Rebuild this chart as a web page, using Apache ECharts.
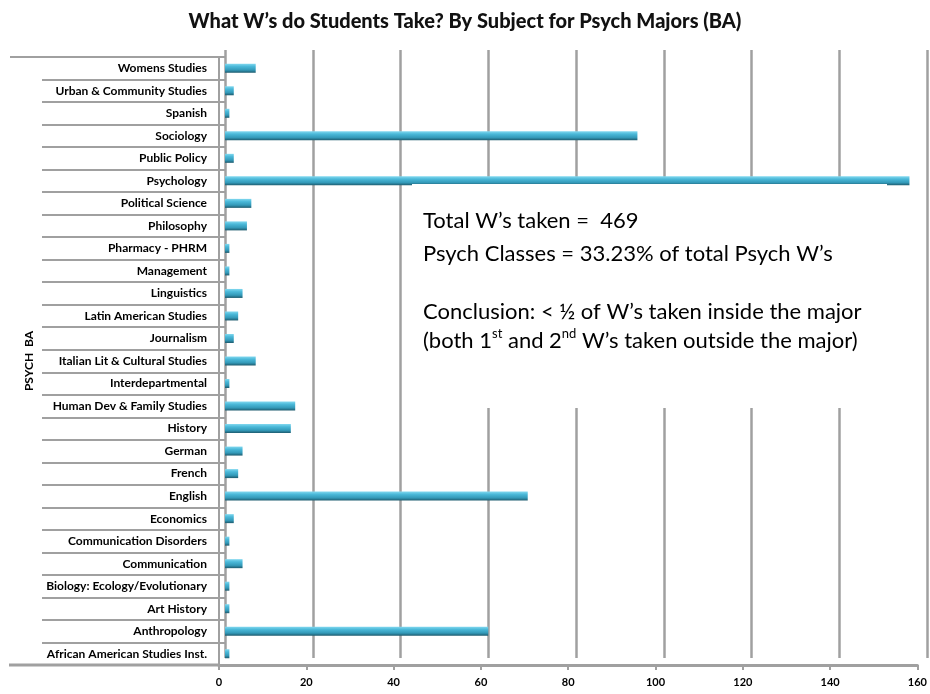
<!DOCTYPE html>
<html>
<head>
<meta charset="utf-8">
<script src="https://cdn.jsdelivr.net/npm/echarts@6/dist/echarts.min.js"></script>
<style>
  html, body { margin: 0; padding: 0; background: #fff; }
  #chart { width: 930px; height: 694px; }
</style>
</head>
<body>
<div id="chart"></div>
<script>
// subjects from top to bottom, as in the picture
var subjects = [
    'Womens Studies', 'Urban & Community Studies', 'Spanish', 'Sociology',
    'Public Policy', 'Psychology', 'Political Science', 'Philosophy',
    'Pharmacy - PHRM', 'Management', 'Linguistics', 'Latin American Studies',
    'Journalism', 'Italian Lit & Cultural Studies', 'Interdepartmental',
    'Human Dev & Family Studies', 'History', 'German', 'French', 'English',
    'Economics', 'Communication Disorders', 'Communication',
    'Biology: Ecology/Evolutionary', 'Art History', 'Anthropology',
    'African American Studies Inst.'
];
var wCounts = [
    7, 2, 1, 94,
    2, 156, 6, 5,
    1, 1, 4, 3,
    2, 7, 1,
    16, 15, 4, 3, 69,
    2, 1, 4,
    1, 1, 60,
    1
];
var xTicks = [0, 20, 40, 60, 80, 100, 120, 140, 160];

var chart = echarts.init(document.getElementById('chart'), null, {renderer: 'canvas'});

var gray = '#a0a0a0';
var lblFont = 'Lato, "Liberation Sans", sans-serif';
var noteFont = '22px Lato, sans-serif';

option = {
    backgroundColor: '#fff',
    animation: false,
    title: {
        text: 'What W\u2019s do Students Take? By Subject for Psych Majors (BA)',
        left: 'center',
        top: 7,
        textStyle: {fontFamily: lblFont, fontWeight: 900, fontSize: 20, color: '#111'}
    },
    grid: [
        // bars + category labels
        {left: 225, right: 3, top: 57, bottom: 29},
        // back wall (gridlines shifted, 3d look)
        {left: 225, right: 3, top: 50, bottom: 36},
        // floor axis
        {left: 219, right: 10, top: 57, bottom: 29}
    ],
    xAxis: [
        {
            gridIndex: 0, type: 'value', min: 0, max: 160, interval: 20,
            axisLine: {show: false}, axisTick: {show: false},
            axisLabel: {show: false}, splitLine: {show: false}
        },
        {
            gridIndex: 1, type: 'value', min: 0, max: 160, interval: 20,
            axisLine: {show: false}, axisTick: {show: false},
            axisLabel: {show: false},
            splitLine: {show: true, lineStyle: {color: gray, width: 2.5}}
        },
        {
            gridIndex: 2, type: 'value', min: 0, max: 160, interval: 20,
            axisLine: {show: true, lineStyle: {color: gray, width: 3}},
            axisTick: {show: true, length: 5, lineStyle: {color: gray, width: 2}},
            axisLabel: {
                margin: 12, color: '#000', fontFamily: lblFont,
                fontWeight: 'bold', fontSize: 11,
                formatter: function (v) { return xTicks.indexOf(v) >= 0 ? String(v) : ''; }
            },
            splitLine: {show: false}
        }
    ],
    yAxis: [
        {
            gridIndex: 0, type: 'category', data: subjects, inverse: true,
            axisLine: {show: false},
            axisTick: {show: true, length: 183, lineStyle: {color: gray, width: 2}},
            axisLabel: {
                margin: 18, color: '#000', fontFamily: lblFont,
                fontWeight: 'bold', fontSize: 12
            },
            name: 'PSYCH  BA',
            nameLocation: 'middle',
            nameRotate: 90,
            nameGap: 190,
            nameTextStyle: {fontFamily: lblFont, fontWeight: 'bold', fontSize: 12, color: '#000'}
        },
        {
            gridIndex: 1, type: 'category', data: subjects, inverse: true, show: false
        },
        {
            gridIndex: 2, type: 'category', data: subjects, inverse: true,
            axisLine: {show: true, lineStyle: {color: gray, width: 2}},
            axisTick: {show: false}, axisLabel: {show: false}
        }
    ],
    series: [
        {
            name: 'W count',
            type: 'bar',
            xAxisIndex: 0,
            yAxisIndex: 0,
            data: wCounts,
            barWidth: 9,
            z: 5,
            itemStyle: {
                color: new echarts.graphic.LinearGradient(0, 0, 0, 1, [
                    {offset: 0, color: '#82d8ef'},
                    {offset: 0.3, color: '#4bb9d9'},
                    {offset: 0.7, color: '#3399b8'},
                    {offset: 1, color: '#1d5a6d'}
                ])
            }
        }
    ],
    graphic: [
        {type: 'line', z: 1, shape: {x1: 10, y1: 57, x2: 225, y2: 57}, style: {stroke: gray, lineWidth: 2}},
        {type: 'line', z: 1, shape: {x1: 9, y1: 665, x2: 219, y2: 665}, style: {stroke: gray, lineWidth: 3}},
        {type: 'rect', z: 50, shape: {x: 412, y: 184, width: 475, height: 224}, style: {fill: '#fff'}},
        {type: 'text', z: 51, x: 423, y: 221,
            style: {text: 'Total W\u2019s taken =  469', font: noteFont, fill: '#000', verticalAlign: 'middle'}},
        {type: 'text', z: 51, x: 423, y: 254,
            style: {text: 'Psych Classes = 33.23% of total Psych W\u2019s', font: noteFont, fill: '#000', verticalAlign: 'middle'}},
        {type: 'text', z: 51, x: 423, y: 312,
            style: {text: 'Conclusion: < \u00bd of W\u2019s taken inside the major', font: noteFont, fill: '#000', verticalAlign: 'middle'}},
        {type: 'text', z: 51, x: 423, y: 341,
            style: {
                verticalAlign: 'middle',
                text: '{a|(both 1}{s|st}{a| and 2}{s|nd}{a| W\u2019s taken outside the major)}',
                rich: {
                    a: {fontFamily: 'Lato, sans-serif', fontSize: 22, color: '#000', lineHeight: 28},
                    s: {fontFamily: 'Lato, sans-serif', fontSize: 13, color: '#000', lineHeight: 28, verticalAlign: 'top', padding: [0, 0, 10, 0]}
                }
            }}
    ]
};
chart.setOption(option);
</script>
</body>
</html>
